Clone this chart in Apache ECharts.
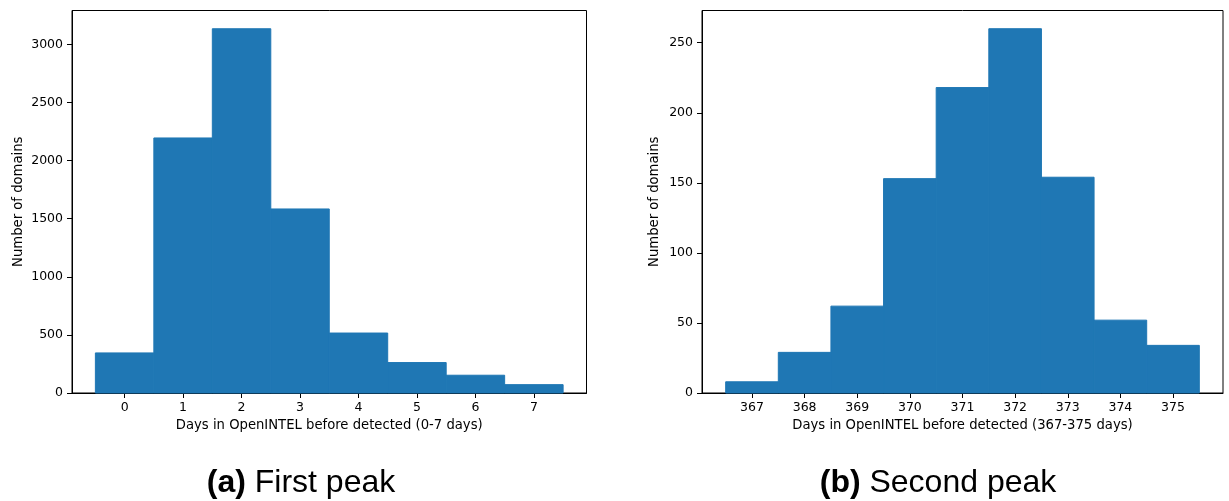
<!DOCTYPE html>
<html>
<head>
<meta charset="utf-8">
<script src="https://cdn.jsdelivr.net/npm/echarts@6/dist/echarts.min.js"></script>
<style>
html,body{margin:0;padding:0;background:#fff;}
#main{width:1229px;height:501px;}
</style>
</head>
<body>
<div id="main"></div>
<script>
// ---- data ----
const daysA = [0, 1, 2, 3, 4, 5, 6, 7];
const countsA = [345, 2195, 3135, 1584, 516, 262, 153, 72];
const daysB = [367, 368, 369, 370, 371, 372, 373, 374, 375];
const countsB = [8, 29, 62, 153, 218, 260, 154, 52, 34];
const xTicksA = [0, 1, 2, 3, 4, 5, 6, 7];
const yTicksA = [0, 500, 1000, 1500, 2000, 2500, 3000];
const xTicksB = [367, 368, 369, 370, 371, 372, 373, 374, 375];
const yTicksB = [0, 50, 100, 150, 200, 250];
const xLabelA = 'Days in OpenINTEL before detected (0-7 days)';
const xLabelB = 'Days in OpenINTEL before detected (367-375 days)';
const yLabel = 'Number of domains';

const FONT = 'DejaVu Sans';
const FS = 12.5;
const NFS = 13.2;
const BLUE = '#1f77b4';

function renderItem(params, api) {
  const x = api.value(0), y = api.value(1);
  const p1 = api.coord([x - 0.5, y]);
  const p2 = api.coord([x + 0.5, 0]);
  return {
    type: 'rect',
    shape: {x: p1[0], y: p1[1], width: p2[0] - p1[0], height: p2[1] - p1[1]},
    style: {fill: BLUE, stroke: BLUE, lineWidth: 1}
  };
}
const fmt = v => String(v);

function xAxis(idx, min, max, ticks, name) {
  return {
    type: 'value', gridIndex: idx, min: min, max: max,
    name: name, nameLocation: 'middle', nameGap: 26,
    nameTextStyle: {fontFamily: FONT, fontSize: NFS, color: '#000'},
    axisLine: {show: true, onZero: false, lineStyle: {color: '#000', width: 1}},
    axisTick: {show: true, customValues: ticks, length: 5, lineStyle: {color: '#000'}},
    axisLabel: {customValues: ticks, formatter: fmt, fontFamily: FONT, fontSize: FS, color: '#000', margin: 8},
    splitLine: {show: false}
  };
}
function yAxis(idx, max, ticks, gap) {
  return {
    type: 'value', gridIndex: idx, min: 0, max: max,
    name: yLabel, nameLocation: 'middle', nameGap: gap,
    nameTextStyle: {fontFamily: FONT, fontSize: NFS, color: '#000'},
    axisLine: {show: true, onZero: false, lineStyle: {color: '#000', width: 1}},
    axisTick: {show: true, customValues: ticks, length: 5, lineStyle: {color: '#000'}},
    axisLabel: {customValues: ticks, formatter: fmt, fontFamily: FONT, fontSize: FS, color: '#000', margin: 9},
    splitLine: {show: false}
  };
}

const chart = echarts.init(document.getElementById('main'), null, {renderer: 'canvas'});
chart.setOption({
  animation: false,
  backgroundColor: '#fff',
  grid: [
    {left: 72, top: 10.5, width: 514.5, height: 382.5, show: true, borderColor: '#000', borderWidth: 1, backgroundColor: 'transparent'},
    {left: 702, top: 10.5, width: 521, height: 382.5, show: true, borderColor: '#000', borderWidth: 1, backgroundColor: 'transparent'}
  ],
  xAxis: [
    xAxis(0, -0.9, 7.9, xTicksA, xLabelA),
    xAxis(1, 366.05, 375.95, xTicksB, xLabelB)
  ],
  yAxis: [
    yAxis(0, 3292, yTicksA, 47),
    yAxis(1, 273, yTicksB, 41)
  ],
  series: [
    {type: 'custom', xAxisIndex: 0, yAxisIndex: 0, renderItem: renderItem,
     data: daysA.map((d, i) => [d, countsA[i]])},
    {type: 'custom', xAxisIndex: 1, yAxisIndex: 1, renderItem: renderItem,
     data: daysB.map((d, i) => [d, countsB[i]])}
  ],
  graphic: [
    {type: 'text', x: 301, y: 483, style: {
      text: '{b|(a)} First peak', align: 'center', verticalAlign: 'middle',
      fontFamily: 'Liberation Sans', fontSize: 32, fill: '#000',
      rich: {b: {fontFamily: 'Liberation Sans', fontSize: 32, fontWeight: 'bold', fill: '#000'}}
    }},
    {type: 'text', x: 938, y: 483, style: {
      text: '{b|(b)} Second peak', align: 'center', verticalAlign: 'middle',
      fontFamily: 'Liberation Sans', fontSize: 32, fill: '#000',
      rich: {b: {fontFamily: 'Liberation Sans', fontSize: 32, fontWeight: 'bold', fill: '#000'}}
    }}
  ]
});
</script>
</body>
</html>
